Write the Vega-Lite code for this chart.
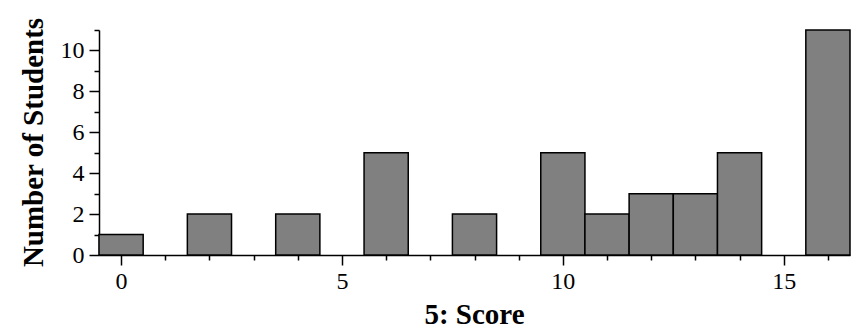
{
  "$schema": "https://vega.github.io/schema/vega-lite/v6.json",
  "width": 751,
  "height": 225,
  "autosize": "none",
  "padding": {"left": 99, "top": 30, "right": 11, "bottom": 81},
  "background": "white",
  "config": {
    "view": {"stroke": null},
    "font": "Liberation Serif",
    "axis": {"grid": false, "domainColor": "black", "domainWidth": 1.5, "tickColor": "black", "tickWidth": 1.5, "labelColor": "black", "titleColor": "black", "labelFont": "Liberation Serif", "titleFont": "Liberation Serif", "labelFontSize": 24, "titleFontSize": 29, "titleFontWeight": "bold"}
  },
  "data": {
    "values": [
      {"score": 0, "bin_start": -0.5, "bin_end": 0.5, "count": 1},
      {"score": 2, "bin_start": 1.5, "bin_end": 2.5, "count": 2},
      {"score": 4, "bin_start": 3.5, "bin_end": 4.5, "count": 2},
      {"score": 6, "bin_start": 5.5, "bin_end": 6.5, "count": 5},
      {"score": 8, "bin_start": 7.5, "bin_end": 8.5, "count": 2},
      {"score": 10, "bin_start": 9.5, "bin_end": 10.5, "count": 5},
      {"score": 11, "bin_start": 10.5, "bin_end": 11.5, "count": 2},
      {"score": 12, "bin_start": 11.5, "bin_end": 12.5, "count": 3},
      {"score": 13, "bin_start": 12.5, "bin_end": 13.5, "count": 3},
      {"score": 14, "bin_start": 13.5, "bin_end": 14.5, "count": 5},
      {"score": 16, "bin_start": 15.5, "bin_end": 16.5, "count": 11}
    ]
  },
  "resolve": {"axis": {"x": "independent", "y": "independent"}},
  "layer": [
    {
      "mark": {"type": "bar", "fill": "#808080", "stroke": "black", "strokeWidth": 1.5},
      "encoding": {
        "x": {"field": "bin_start", "type": "quantitative", "scale": {"domain": [-0.5, 16.5], "nice": false, "zero": false},
          "axis": {"orient": "bottom", "values": [0, 5, 10, 15], "tickSize": 10, "labelPadding": 4, "title": "5: Score", "titleX": 375, "titleY": 59, "titleBaseline": "middle", "titleAlign": "center"}},
        "x2": {"field": "bin_end"},
        "y": {"field": "count", "type": "quantitative", "scale": {"domain": [0, 11], "nice": false},
          "axis": {"orient": "left", "values": [0, 2, 4, 6, 8, 10], "tickSize": 10, "labelPadding": 5, "title": "Number of Students", "titleX": -66, "titleY": 112, "titleBaseline": "middle", "titleAlign": "center", "titleAngle": -90}},
        "y2": {"datum": 0}
      }
    },
    {
      "mark": {"type": "bar", "opacity": 0},
      "encoding": {
        "x": {"field": "bin_start", "type": "quantitative",
          "axis": {"orient": "bottom", "values": [1, 2, 3, 4, 6, 7, 8, 9, 11, 12, 13, 14, 16], "tickSize": 5, "labels": false, "domain": false, "title": null}},
        "x2": {"field": "bin_end"},
        "y": {"field": "count", "type": "quantitative",
          "axis": {"orient": "left", "values": [1, 3, 5, 7, 9, 11], "tickSize": 5, "labels": false, "domain": false, "title": null}},
        "y2": {"datum": 0}
      }
    }
  ]
}
